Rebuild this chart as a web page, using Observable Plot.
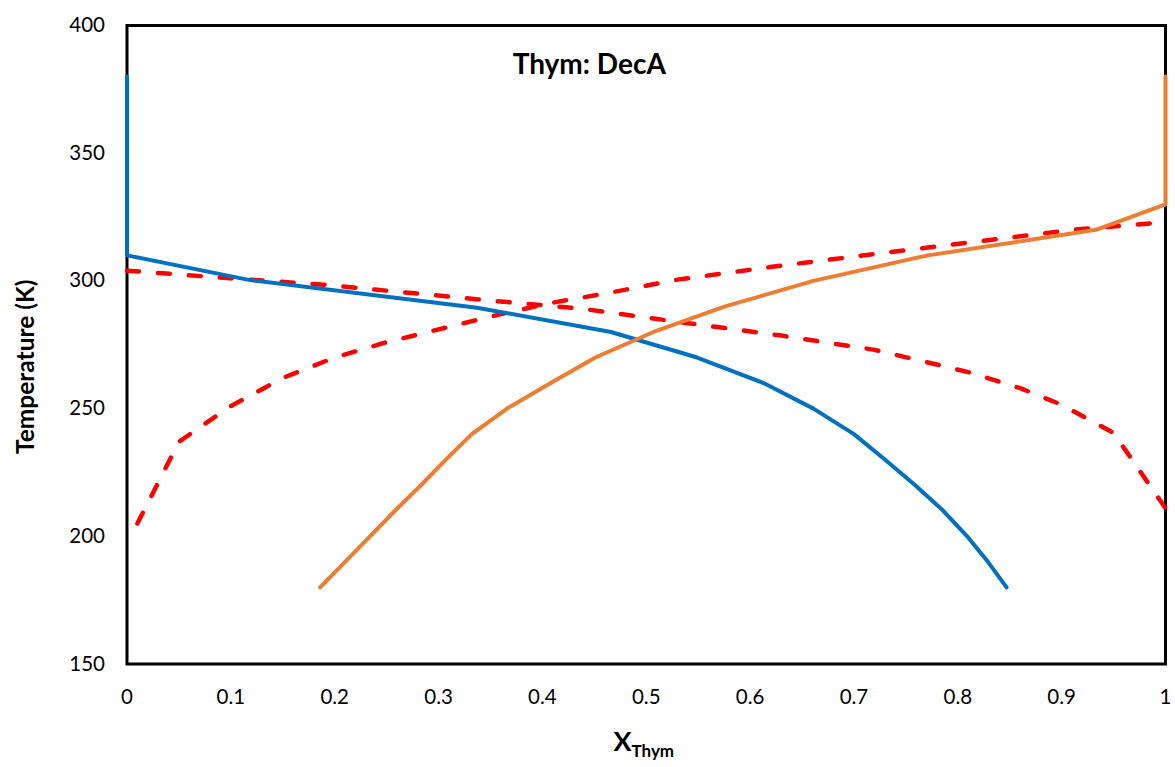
<!DOCTYPE html>
<html>
<head>
<meta charset="utf-8">
<script src="https://cdn.jsdelivr.net/npm/d3@7"></script>
<script src="https://cdn.jsdelivr.net/npm/@observablehq/plot@0.6"></script>
<style>
  html, body { margin: 0; padding: 0; background: #fff; }
  #chart svg { display: block; }
</style>
</head>
<body>
<div id="chart"></div>
<script>
// Blue solid curve
const blueX = [0, 0, 0.116, 0.337, 0.466, 0.549, 0.613, 0.661, 0.700, 0.730, 0.759, 0.786, 0.809, 0.829, 0.847];
const blueT = [380, 310, 300.5, 289.5, 280, 270, 260, 250, 240, 230, 220, 210, 200, 190, 180];

// Orange solid curve
const orangeX = [0.186, 0.210, 0.234, 0.258, 0.283, 0.307, 0.332, 0.366, 0.408, 0.451, 0.507, 0.576, 0.661, 0.771, 0.933, 1, 1];
const orangeT = [180, 190, 200, 210, 220, 230, 240, 250, 260, 270, 280, 290, 300, 310, 320, 330, 380];

// Red dashed curve rising
const redUpX = [0.01, 0.05, 0.10, 0.15, 0.20, 0.25, 0.30, 0.36, 0.41, 0.46, 0.53, 0.63, 0.73, 0.81, 0.91, 1.0];
const redUpT = [205, 237, 251, 262, 270, 276, 281, 287, 291.5, 295, 300.5, 306, 311, 315, 320, 323];

// Red dashed curve falling
const redDownX = [0, 0.10, 0.19, 0.34, 0.44, 0.53, 0.63, 0.72, 0.77, 0.81, 0.86, 0.90, 0.95, 1.0];
const redDownT = [304, 301, 298.5, 292.7, 289, 284, 278.6, 273, 268.2, 264.3, 258, 251.5, 240.5, 211];

const xTicks = [0, 0.1, 0.2, 0.3, 0.4, 0.5, 0.6, 0.7, 0.8, 0.9, 1];
const yTicks = [150, 200, 250, 300, 350, 400];

const title = "Thym: DecA";
const yLabel = "Temperature (K)";
const xLabelMain = "X";
const xLabelSub = "Thym";

const toPts = (xs, ts) => xs.map((x, i) => ({x, t: ts[i]}));
const blue = toPts(blueX, blueT);
const orange = toPts(orangeX, orangeT);
const redUp = toPts(redUpX, redUpT);
const redDown = toPts(redDownX, redDownT);

const FONT = "Lato, 'Open Sans', sans-serif";

const plot = Plot.plot({
  width: 1175,
  height: 767,
  marginLeft: 126.5,
  marginRight: 10,
  marginTop: 25,
  marginBottom: 103.5,
  style: { fontFamily: FONT, background: "#fff", color: "#000" },
  x: { domain: [0, 1] },
  y: { domain: [150, 400] },
  marks: [
    Plot.frame({ stroke: "#000", strokeWidth: 3 }),
    Plot.axisX({
      ticks: xTicks, tickSize: 0, tickPadding: 25, fontSize: 20.5, label: null,
      tickFormat: d => String(+d.toFixed(1))
    }),
    Plot.axisY({
      ticks: yTicks, tickSize: 0, tickPadding: 22, fontSize: 20.5, label: null
    }),
    Plot.line(redDown, { x: "x", y: "t", stroke: "#FF0000", strokeWidth: 4.5,
      strokeDasharray: "12,19", strokeLinecap: "round", strokeLinejoin: "round" }),
    Plot.line(redUp, { x: "x", y: "t", stroke: "#FF0000", strokeWidth: 4.5,
      strokeDasharray: "12,19", strokeLinecap: "round", strokeLinejoin: "round" }),
    Plot.line(blue, { x: "x", y: "t", stroke: "#0070C0", strokeWidth: 4, strokeLinejoin: "round" }),
    Plot.line(orange, { x: "x", y: "t", stroke: "#ED7D31", strokeWidth: 4, strokeLinejoin: "round" }),
    Plot.text([title], { frameAnchor: "top", dx: -57, dy: 40, fontSize: 28,
      fontWeight: "bold", fill: "#000", textAnchor: "middle", lineAnchor: "middle" }),
    Plot.text([yLabel], { frameAnchor: "left", rotate: -90, dx: -101, dy: 22, fontSize: 24.5,
      fontWeight: "bold", fill: "#000", textAnchor: "middle", lineAnchor: "middle" })
  ]
});

document.getElementById("chart").appendChild(plot);

// X axis title with subscript
const svg = d3.select(plot);
const xs = plot.scale("x");
const cx = (xs.apply(0) + xs.apply(1)) / 2;
const t = svg.append("text")
  .attr("x", cx - 2)
  .attr("y", 751)
  .attr("text-anchor", "middle")
  .attr("font-family", FONT)
  .attr("font-weight", "bold")
  .attr("fill", "#000");
t.append("tspan").attr("font-size", 27).text(xLabelMain);
t.append("tspan").attr("font-size", 17).attr("dy", 6).text(xLabelSub);
</script>
</body>
</html>
